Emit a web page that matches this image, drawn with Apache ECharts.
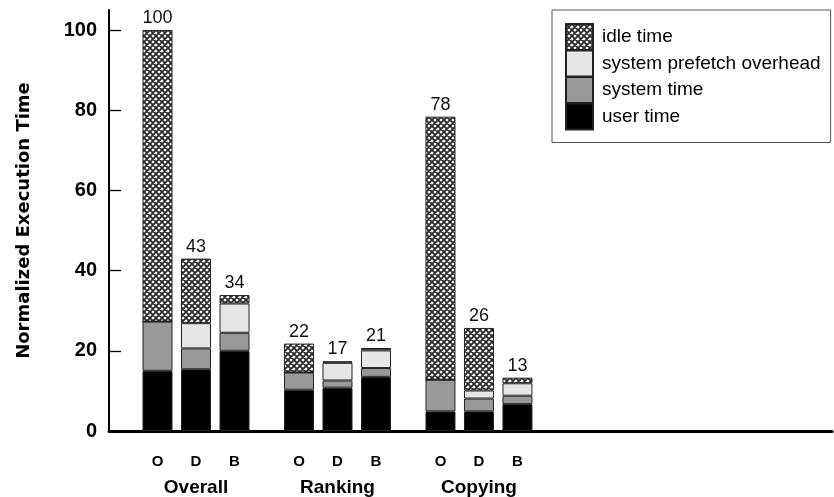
<!DOCTYPE html>
<html><head><meta charset="utf-8">
<script src="https://cdn.jsdelivr.net/npm/echarts@6/dist/echarts.min.js"></script>
<style>html,body{margin:0;padding:0;background:#fff}#c{width:834px;height:497px}</style>
</head><body><div id="c"></div>
<script>
const groups = ['Overall', 'Ranking', 'Copying'];
const configs = ['O', 'D', 'B'];
const userTime = [15.0, 15.4, 20.0, 10.3, 10.8, 13.5, 4.9, 4.9, 6.7];
const systemTime = [12.3, 5.2, 4.5, 4.3, 1.8, 2.2, 7.9, 3.2, 2.1];
const prefetchOverhead = [0, 6.3, 7.3, 0, 4.4, 4.4, 0, 2.0, 3.1];
const idleTime = [72.7, 16.1, 2.1, 7.2, 0.4, 0.6, 65.6, 15.6, 1.4];
const totalLabels = ['100', '43', '34', '22', '17', '21', '78', '26', '13'];
const yTicks = [0, 20, 40, 60, 80, 100];

// bar placement along a value x axis (unit = spacing between bars in a group)
const GROUP_STEP = 3.675;
const positions = [];
const barConfig = [];
groups.forEach((g, gi) => configs.forEach((c, ci) => { positions.push(gi * GROUP_STEP + ci); barConfig.push(c); }));
const groupCenters = groups.map((g, gi) => gi * GROUP_STEP + 1);
const X_MIN = -1.26, X_MAX = 17.52;

function hatch() {
  const s = 6, cv = document.createElement('canvas');
  cv.width = cv.height = s;
  const ctx = cv.getContext('2d');
  ctx.fillStyle = '#fff'; ctx.fillRect(0, 0, s, s);
  ctx.strokeStyle = '#2a2a2a'; ctx.lineWidth = 1.8;
  ctx.beginPath();
  for (const o of [-s, 0, s]) { ctx.moveTo(o, 0); ctx.lineTo(o + s, s); ctx.moveTo(o + s, 0); ctx.lineTo(o, s); }
  ctx.stroke();
  return cv;
}

function nearestIdx(arr, v) {
  let best = 0;
  arr.forEach((p, i) => { if (Math.abs(p - v) < Math.abs(arr[best] - v)) best = i; });
  return best;
}

function mk(name, data, color, withLabel) {
  return {
    name, type: 'bar', stack: 't', barWidth: 30,
    // value first so that it is the stacked dimension; position drives the x axis
    data: data.map((v, i) => [v, positions[i]]),
    encode: { x: 1, y: 0 },
    itemStyle: { color, borderColor: '#222', borderWidth: 1 },
    label: withLabel ? {
      show: true, position: 'top', distance: 3,
      formatter: p => totalLabels[p.dataIndex],
      fontFamily: 'Liberation Sans', fontSize: 18, color: '#111'
    } : { show: false },
    emphasis: { disabled: true }
  };
}

const chart = echarts.init(document.getElementById('c'), null, { renderer: 'canvas' });
chart.setOption({
  animation: false,
  backgroundColor: '#fff',
  grid: { left: 109, right: 2, top: 10, bottom: 65.5, containLabel: false },
  legend: {
    orient: 'vertical', left: 552, top: 10,
    data: ['idle time', 'system prefetch overhead', 'system time', 'user time'],
    itemWidth: 27, itemHeight: 26, itemGap: -1.5, icon: 'rect',
    borderColor: '#555', borderWidth: 1, padding: [13, 10, 12, 13],
    textStyle: { fontFamily: 'Liberation Sans', fontSize: 19, lineHeight: 19, color: '#000', padding: [0, 0, 0, 4] },
    selectedMode: false
  },
  xAxis: [
    {
      type: 'value', min: X_MIN, max: X_MAX, splitLine: { show: false },
      axisLine: { show: true, onZero: false, lineStyle: { color: '#000', width: 3 } },
      axisTick: { show: false },
      axisLabel: {
        customValues: positions,
        formatter: v => barConfig[nearestIdx(positions, v)],
        fontFamily: 'Liberation Sans', fontWeight: 'bold', fontSize: 15, color: '#000', margin: 23
      }
    },
    {
      type: 'value', min: X_MIN, max: X_MAX, position: 'bottom', splitLine: { show: false },
      axisLine: { show: false }, axisTick: { show: false },
      axisLabel: {
        customValues: groupCenters,
        formatter: v => groups[nearestIdx(groupCenters, v)],
        fontFamily: 'Liberation Sans', fontWeight: 'bold', fontSize: 19, color: '#000', margin: 47
      }
    }
  ],
  yAxis: {
    type: 'value', min: 0, max: 105,
    name: 'Normalized Execution Time', nameLocation: 'middle', nameGap: 76,
    nameTextStyle: { fontFamily: 'DejaVu Sans', fontWeight: 'bold', fontSize: 18, color: '#000' },
    axisLine: { show: true, onZero: false, lineStyle: { color: '#000', width: 2 } },
    axisTick: { show: true, inside: true, length: 12, lineStyle: { color: '#000', width: 1.3 }, customValues: yTicks },
    axisLabel: { customValues: yTicks, fontFamily: 'Liberation Sans', fontWeight: 'bold', fontSize: 20, color: '#000', margin: 12 },
    splitLine: { show: false }
  },
  series: [
    mk('user time', userTime, '#000', false),
    mk('system time', systemTime, '#999', false),
    mk('system prefetch overhead', prefetchOverhead, '#e6e6e6', false),
    mk('idle time', idleTime, { image: hatch(), repeat: 'repeat' }, true)
  ]
});
</script></body></html>
